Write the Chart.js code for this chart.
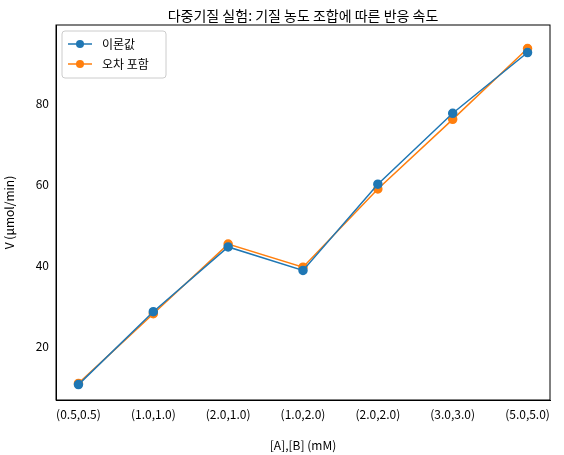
<!DOCTYPE html>
<html><head><meta charset="utf-8">
<script src="https://cdn.jsdelivr.net/npm/chart.js@4"></script>
<style>body{margin:0;background:#fff}#w{width:564px;height:455px}</style>
</head><body><div id="w"><canvas id="c"></canvas></div>
<script>
const categories = ['(0.5,0.5)', '(1.0,1.0)', '(2.0,1.0)', '(1.0,2.0)', '(2.0,2.0)', '(3.0,3.0)', '(5.0,5.0)'];
const theory = [10.5, 28.5, 44.5, 38.7, 60.0, 77.5, 92.5];
const withError = [10.8, 28.0, 45.2, 39.5, 58.8, 76.0, 93.5];
const yTicks = [20, 40, 60, 80];
const chartTitle = '다중기질 실험: 기질 농도 조합에 따른 반응 속도';

const FAM = "'Noto Sans CJK KR', 'DejaVu Sans'";
const font = { family: FAM, size: 12 };
const pts = arr => arr.map((v, i) => ({ x: i, y: v }));

new Chart(document.getElementById('c'), {
    type: 'line',
    data: {
        datasets: [
            { label: '이론값', data: pts(theory), borderColor: '#1f77b4', backgroundColor: '#1f77b4', pointRadius: 4, borderWidth: 1.5 },
            { label: '오차 포함', data: pts(withError), borderColor: '#ff7f0e', backgroundColor: '#ff7f0e', pointRadius: 4, borderWidth: 1.5 }
        ]
    },
    options: {
        responsive: true, maintainAspectRatio: false, animation: false,
        layout: { padding: { top: 25, right: 14, left: 0, bottom: 0 } },
        scales: {
            x: {
                type: 'linear', min: -0.3, max: 6.3,
                afterBuildTicks: a => { a.ticks = categories.map((_, i) => ({ value: i })); },
                afterFit: a => { a.height = 55; },
                ticks: { callback: v => categories[v], color: '#000', font, maxRotation: 0 },
                grid: { display: false, drawTicks: true, tickLength: 4, tickColor: '#000' },
                border: { color: '#000' },
                title: { display: true, text: '[A],[B] (mM)', color: '#000', font, padding: 2 }
            },
            y: {
                min: 6.7, max: 99.3,
                afterBuildTicks: a => { a.ticks = yTicks.map(v => ({ value: v })); },
                afterFit: a => { a.width = 56; },
                ticks: { color: '#000', font },
                grid: { display: false, drawTicks: true, tickLength: 4, tickColor: '#000' },
                border: { color: '#000' },
                title: { display: true, text: 'V (μmol/min)', color: '#000', font, padding: 2 }
            }
        },
        plugins: { legend: { display: false }, tooltip: { enabled: false } }
    },
    plugins: [{
        id: 'frame',
        afterDraw(ch) {
            const { ctx, chartArea: a } = ch;
            ctx.save(); ctx.strokeStyle = '#000'; ctx.lineWidth = 1;
            ctx.strokeRect(a.left, a.top, a.right - a.left, a.bottom - a.top);
            // 标题
            ctx.fillStyle = '#000'; ctx.font = `14px ${FAM}`;
            ctx.textAlign = 'center'; ctx.textBaseline = 'middle';
            ctx.fillText(chartTitle, (a.left + a.right) / 2, 16);
            // 图例
            const lx = a.left + 6, ly = a.top + 6;
            ctx.strokeStyle = '#ccc'; ctx.fillStyle = '#fff';
            ctx.beginPath(); ctx.roundRect(lx, ly, 104, 47, 3); ctx.fill(); ctx.stroke();
            ch.data.datasets.forEach((d, i) => {
                const y = ly + 13 + i * 20;
                ctx.strokeStyle = d.borderColor; ctx.fillStyle = d.borderColor; ctx.lineWidth = 1.5;
                ctx.beginPath(); ctx.moveTo(lx + 6, y); ctx.lineTo(lx + 30, y); ctx.stroke();
                ctx.beginPath(); ctx.arc(lx + 18, y, 4, 0, Math.PI * 2); ctx.fill();
                ctx.fillStyle = '#000'; ctx.font = `12px ${FAM}`; ctx.textAlign = 'left';
                ctx.fillText(d.label, lx + 40, y);
            });
            ctx.restore();
        }
    }]
});
</script></body></html>
